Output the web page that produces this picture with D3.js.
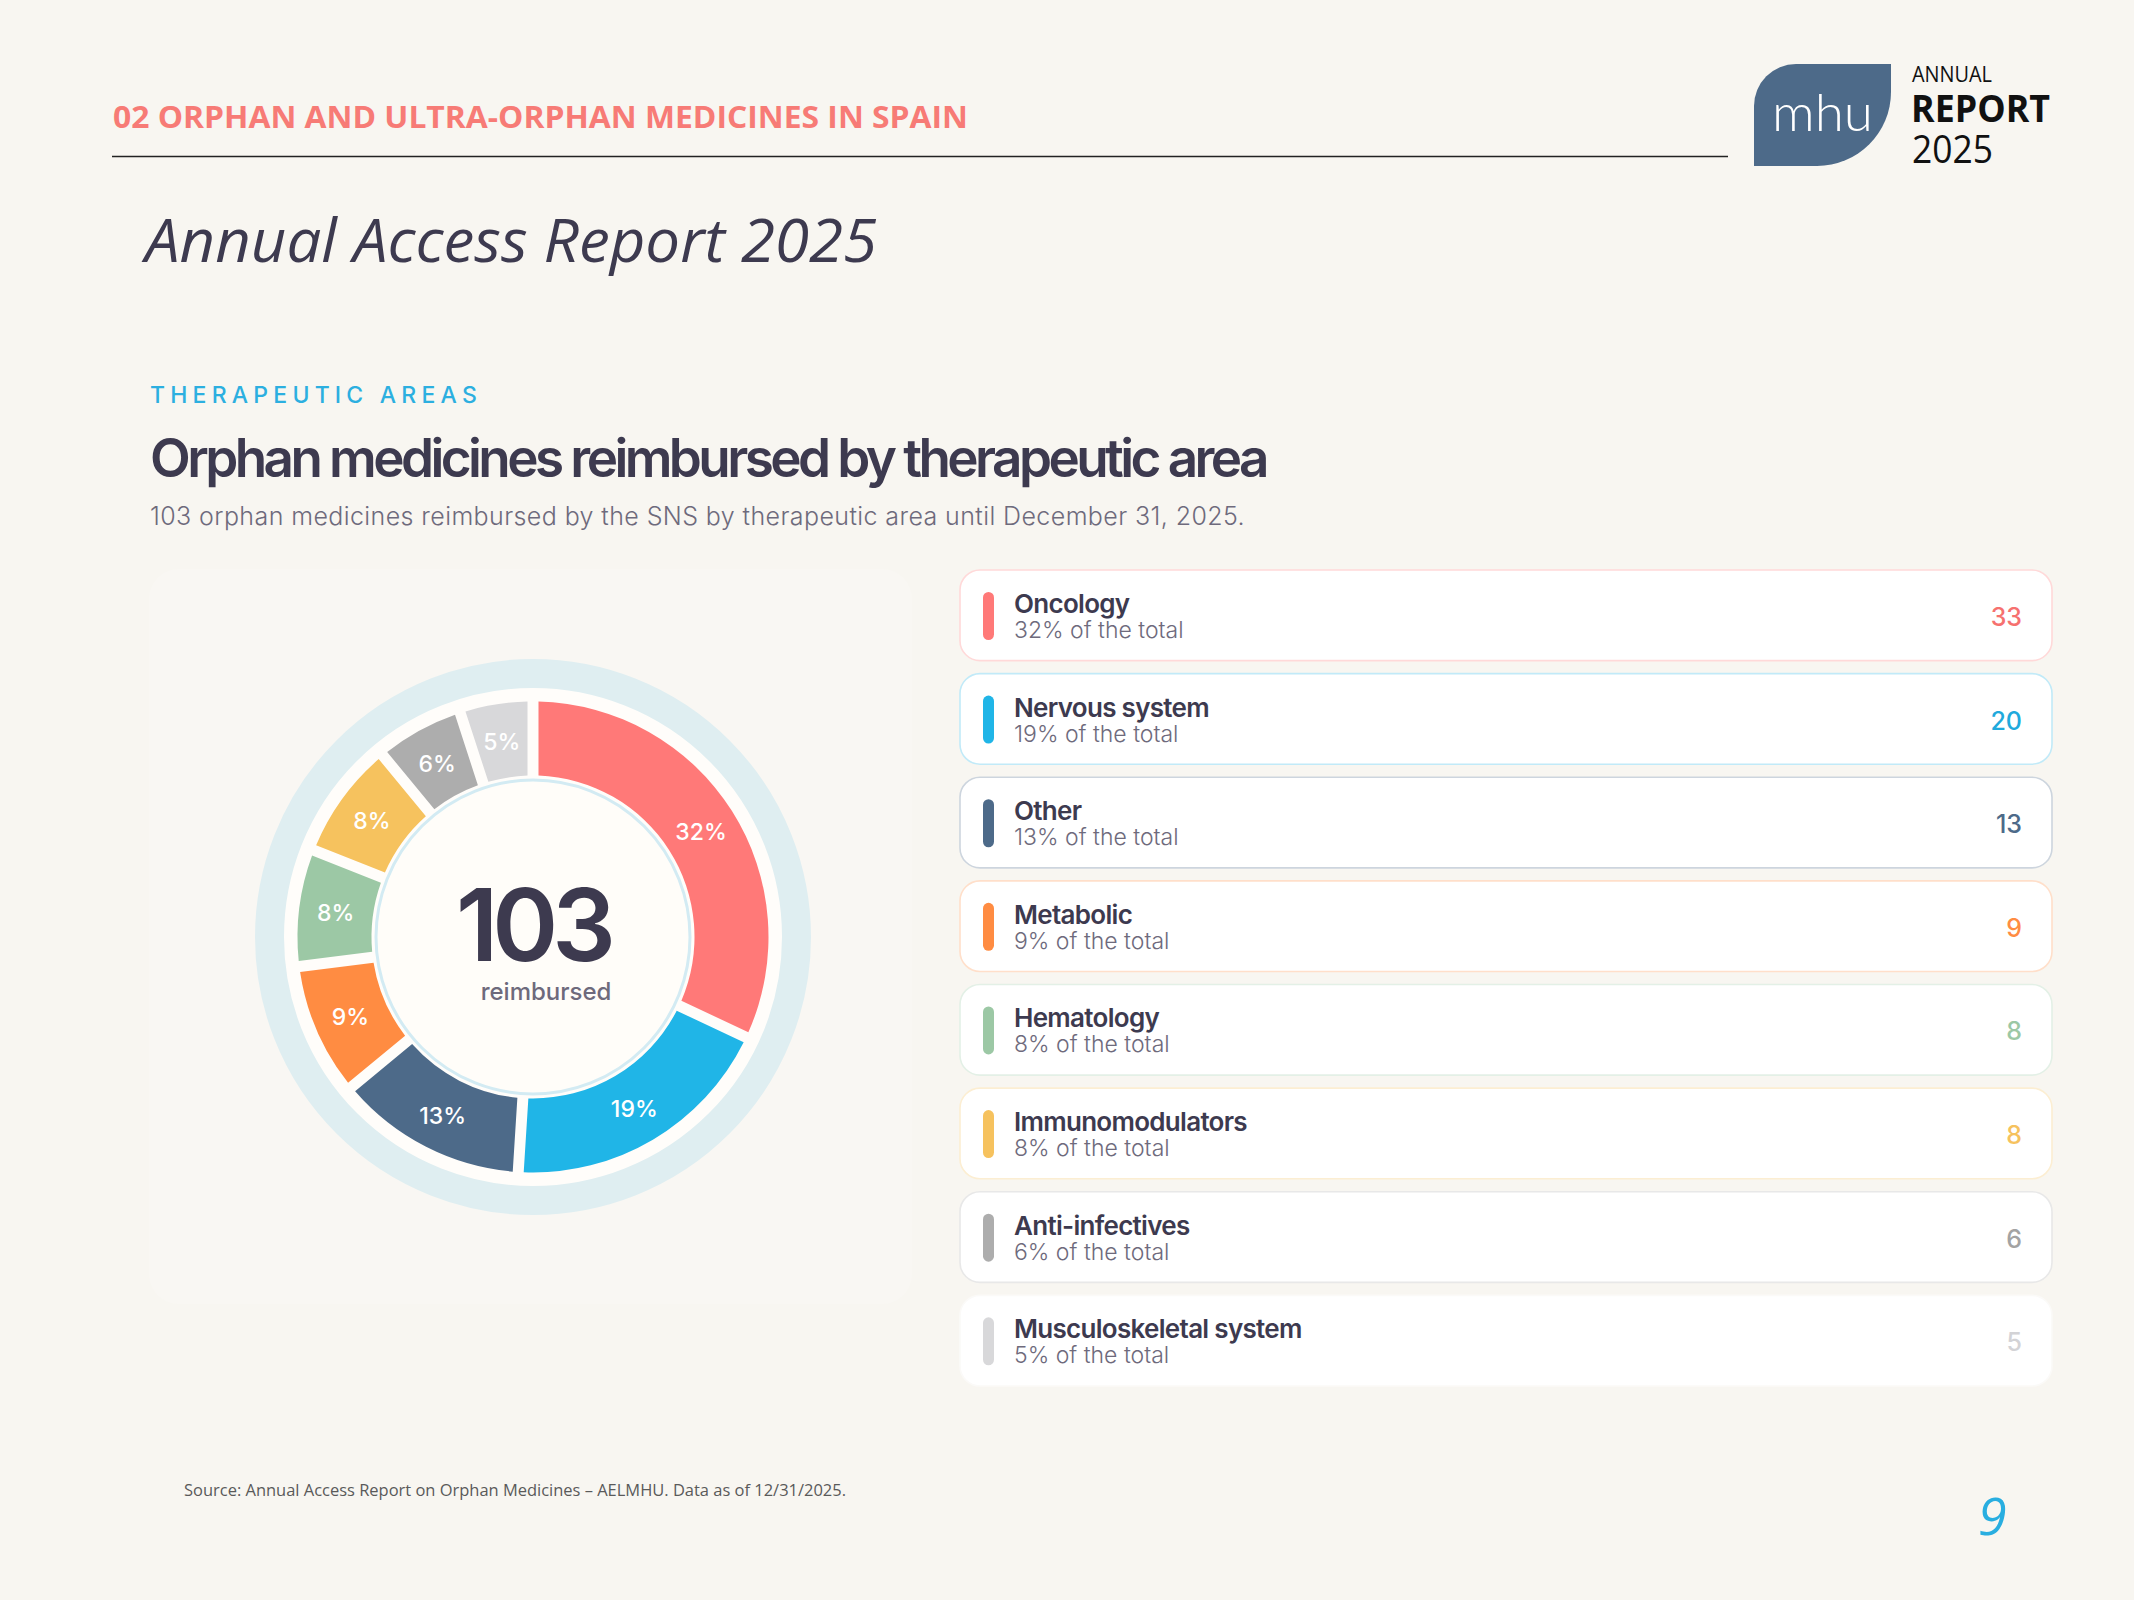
<!DOCTYPE html>
<html>
<head>
<meta charset="utf-8">
<script src="https://cdn.jsdelivr.net/npm/d3@7"></script>
<style>
  body { margin: 0; background: #f8f6f1; }
  svg { display: block; }
</style>
</head>
<body>
<svg id="chart" width="2134" height="1600"></svg>
<script>
// data
const areas = ['Oncology', 'Nervous system', 'Other', 'Metabolic', 'Hematology',
               'Immunomodulators', 'Anti-infectives', 'Musculoskeletal system'];
const counts = [33, 20, 13, 9, 8, 8, 6, 5];
const shares = [32, 19, 13, 9, 8, 8, 6, 5];   // % of the total, as printed
const colors = ['#ff7978', '#20b5e7', '#4d6a89', '#ff8c42', '#9cc8a5',
                '#f6c25e', '#adadad', '#d8d8da'];
const valueColors = ['#f6716f', '#20a9dc', '#4d6a89', '#ff8c42', '#9cc8a5',
                     '#f6c25e', '#a3a3a3', '#d3d3d6'];
const totalReimbursed = 103;

const DARK = '#3d3a4f';
const SOFT = '#6e6a7c';
const SANS = 'Inter, "Noto Sans", sans-serif';
const CAL = '"Open Sans", "Noto Sans", sans-serif';

const svg = d3.select('#chart');

// squeeze a text into a given width (stand-in for the condensed report font)
function squeeze(sel, w){
    sel.attr('textLength', w).attr('lengthAdjust', 'spacingAndGlyphs');
}

// stretch / tighten letter-spacing so text spans width w
function spread(sel, w){
    const n = sel.text().length;
    const cur = sel.node().getComputedTextLength();
    sel.attr('letter-spacing', ((w - cur) / n).toFixed(2));
}

// ---------- page header ----------
svg.append('text').attr('x', 113).attr('y', 128)
    .attr('font-family', CAL).attr('font-weight', 700).attr('font-size', 31)
    .attr('fill', '#f77b76')
    .text('02 ORPHAN AND ULTRA-ORPHAN MEDICINES IN SPAIN')
    .call(squeeze, 855);

svg.append('line').attr('x1', 112).attr('x2', 1728)
    .attr('y1', 156.5).attr('y2', 156.5)
    .attr('stroke', '#222').attr('stroke-width', 1.6);

// logo leaf
const lg = svg.append('g').attr('transform', 'translate(1754,64)');
lg.append('path')
    .attr('d', 'M0,42 A42,42 0 0 1 42,0 L137,0 L137,28 A74,74 0 0 1 63,102 L0,102 Z')
    .attr('fill', '#4d6a89');
lg.append('text').attr('x', 18).attr('y', 67)
    .attr('font-family', 'Lato, sans-serif').attr('font-weight', 300)
    .attr('font-size', 52).attr('fill', '#fff')
    .text('mhu').call(squeeze, 101);

svg.append('text').attr('x', 1912).attr('y', 82)
    .attr('font-family', CAL).attr('font-size', 21).attr('fill', '#111')
    .text('ANNUAL').call(squeeze, 80);
svg.append('text').attr('x', 1911).attr('y', 122)
    .attr('font-family', CAL).attr('font-weight', 700).attr('font-size', 38)
    .attr('fill', '#111').text('REPORT').call(squeeze, 139);
svg.append('text').attr('x', 1912).attr('y', 163)
    .attr('font-family', CAL).attr('font-size', 38).attr('fill', '#111')
    .text('2025').call(squeeze, 81);

svg.append('text').attr('x', 145).attr('y', 262)
    .attr('font-family', CAL).attr('font-style', 'italic').attr('font-size', 60)
    .attr('fill', DARK).text('Annual Access Report 2025')
    .call(squeeze, 732);

// ---------- chart headings ----------
svg.append('text').attr('x', 150).attr('y', 403)
    .attr('font-family', SANS).attr('font-weight', 500).attr('font-size', 23)
    .attr('fill', '#2cafe0').text('THERAPEUTIC AREAS')
    .call(spread, 332);

svg.append('text').attr('x', 150).attr('y', 477)
    .attr('font-family', SANS).attr('font-weight', 600).attr('font-size', 53)
    .attr('fill', DARK).text('Orphan medicines reimbursed by therapeutic area')
    .call(spread, 1116);

svg.append('text').attr('x', 150).attr('y', 525)
    .attr('font-family', SANS).attr('font-weight', 300).attr('font-size', 25)
    .attr('fill', SOFT)
    .text('103 orphan medicines reimbursed by the SNS by therapeutic area until December 31, 2025.')
    .call(spread, 1095);

// ---------- donut ----------
svg.append('rect').attr('x', 149).attr('y', 569)
    .attr('width', 763).attr('height', 735).attr('rx', 30)
    .attr('fill', '#f9f7f3');

const cx = 533, cy = 937;
const dg = svg.append('g').attr('transform', `translate(${cx},${cy})`);

dg.append('circle').attr('r', 263.5)
    .attr('fill', '#fffdfa')
    .attr('stroke', '#dfeef1').attr('stroke-width', 29);

const rows = areas.map((a, i) => ({
    name: a, count: counts[i], share: shares[i],
    color: colors[i], valueColor: valueColors[i]
}));

// slices follow the printed percentages
const pie = d3.pie().sort(null).value(d => d.share);
const arc = d3.arc().innerRadius(161.5).outerRadius(235.5)
    .padRadius(200).padAngle(11 / 200);
const labelArc = d3.arc().innerRadius(199).outerRadius(199);
const arcs = pie(rows);

dg.selectAll('path.slice').data(arcs).enter().append('path')
    .attr('class', 'slice')
    .attr('d', arc)
    .attr('fill', d => d.data.color);

dg.append('circle').attr('r', 157)
    .attr('fill', '#fffdf9')
    .attr('stroke', '#d3ebf3').attr('stroke-width', 3);

dg.selectAll('text.pct').data(arcs).enter().append('text')
    .attr('class', 'pct')
    .attr('transform', d => `translate(${labelArc.centroid(d)})`)
    .attr('text-anchor', 'middle').attr('dy', '0.4em')
    .attr('font-family', SANS).attr('font-weight', 500).attr('font-size', 23)
    .attr('fill', '#fff')
    .text(d => d.data.share + '%');

dg.append('text').attr('x', 0).attr('y', 24)
    .attr('text-anchor', 'middle')
    .attr('font-family', SANS).attr('font-weight', 600).attr('font-size', 100)
    .attr('letter-spacing', -6).attr('fill', DARK)
    .text(totalReimbursed);

dg.append('text').attr('x', 13).attr('y', 63)
    .attr('text-anchor', 'middle')
    .attr('font-family', SANS).attr('font-weight', 500).attr('font-size', 24)
    .attr('fill', SOFT).text('reimbursed');

// ---------- legend cards ----------
const y = d3.scaleBand().domain(areas).range([570, 1386]).paddingInner(0.125);

const card = svg.selectAll('g.card').data(rows).enter().append('g')
    .attr('class', 'card')
    .attr('transform', d => `translate(960,${y(d.name)})`);

card.append('rect')
    .attr('width', 1092).attr('height', y.bandwidth()).attr('rx', 20)
    .attr('fill', '#fff')
    .attr('stroke', (d, i) => i === rows.length - 1 ? '#fbfaf8'
                              : d3.interpolateRgb(d.color, '#fff')(0.72))
    .attr('stroke-width', 1.6);

card.append('rect')
    .attr('x', 23).attr('y', 22).attr('width', 11).attr('height', 48).attr('rx', 5.5)
    .attr('fill', d => d.color);

card.append('text').attr('x', 54).attr('y', 43)
    .attr('font-family', SANS).attr('font-weight', 600).attr('font-size', 26)
    .attr('letter-spacing', -0.7).attr('fill', DARK)
    .text(d => d.name);

card.append('text').attr('x', 54).attr('y', 68)
    .attr('font-family', SANS).attr('font-weight', 300).attr('font-size', 23)
    .attr('fill', SOFT)
    .text(d => `${d.share}% of the total`);

card.append('text').attr('x', 1062).attr('y', 56)
    .attr('text-anchor', 'end')
    .attr('font-family', SANS).attr('font-weight', 500).attr('font-size', 25)
    .attr('fill', d => d.valueColor)
    .text(d => d.count);

// ---------- footer ----------
svg.append('text').attr('x', 184).attr('y', 1496)
    .attr('font-family', CAL).attr('font-size', 16).attr('fill', '#5a5a5a')
    .text('Source: Annual Access Report on Orphan Medicines \u2013 AELMHU. Data as of 12/31/2025.')
    .call(squeeze, 662);

svg.append('text').attr('x', 1978).attr('y', 1535)
    .attr('font-family', CAL).attr('font-style', 'italic').attr('font-size', 52)
    .attr('fill', '#29aee0').text('9');
</script>
</body>
</html>
